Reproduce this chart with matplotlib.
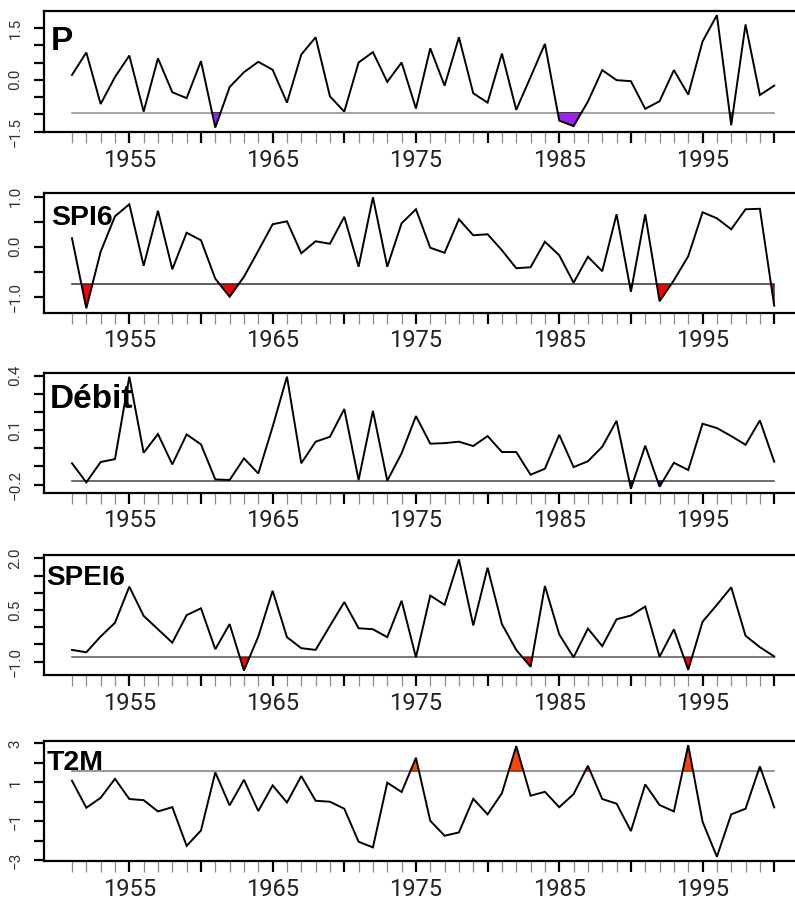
import numpy as np
import matplotlib
matplotlib.use("Agg")
import matplotlib.pyplot as plt

# ---------------- data ----------------
years = list(range(1951, 2001))

p_values = [0.14, 0.79, -0.70, 0.08, 0.70, -0.92, 0.62, -0.36, -0.53, 0.54,
            -1.38, -0.21, 0.22, 0.52, 0.29, -0.66, 0.73, 1.23, -0.48, -0.92,
            0.50, 0.80, -0.06, 0.50, -0.83, 0.91, -0.17, 1.23, -0.39, -0.66,
            0.76, -0.87, 0.08, 1.04, -1.18, -1.34, -0.63, 0.28, -0.01, -0.04,
            -0.84, -0.62, 0.28, -0.43, 1.11, 1.87, -1.31, 1.60, -0.44, -0.17]
p_threshold = -0.95

spi6_values = [0.17, -1.23, -0.10, 0.61, 0.85, -0.38, 0.72, -0.45, 0.28, 0.13,
               -0.64, -1.00, -0.60, -0.08, 0.45, 0.51, -0.13, 0.11, 0.06, 0.60,
               -0.40, 0.99, -0.40, 0.47, 0.75, -0.02, -0.12, 0.55, 0.23, 0.25,
               -0.07, -0.43, -0.41, 0.10, -0.17, -0.72, -0.20, -0.49, 0.65, -0.90,
               0.65, -1.09, -0.67, -0.19, 0.69, 0.57, 0.35, 0.75, 0.76, -1.18]
spi6_threshold = -0.75

debit_values = [-0.083, -0.188, -0.076, -0.060, 0.394, -0.025, 0.078, -0.089, 0.076, 0.021,
                -0.172, -0.175, -0.056, -0.139, 0.118, 0.394, -0.083, 0.036, 0.063, 0.216,
                -0.175, 0.206, -0.179, -0.028, 0.177, 0.025, 0.028, 0.036, 0.012, 0.067,
                -0.021, -0.021, -0.146, -0.113, 0.074, -0.104, -0.072, 0.008, 0.151, -0.223,
                0.014, -0.212, -0.080, -0.120, 0.135, 0.111, 0.067, 0.019, 0.153, -0.074]
debit_threshold = -0.179

spei6_values = [-0.66, -0.73, -0.27, 0.13, 1.18, 0.33, -0.06, -0.45, 0.35, 0.55,
                -0.64, 0.09, -1.26, -0.27, 1.06, -0.29, -0.61, -0.66, 0.04, 0.73,
                -0.03, -0.06, -0.29, 0.77, -0.875, 0.92, 0.65, 1.97, 0.05, 1.73,
                0.09, -0.66, -1.15, 1.20, -0.21, -0.875, -0.04, -0.55, 0.23, 0.34,
                0.60, -0.86, -0.06, -1.24, 0.16, 0.65, 1.16, -0.25, -0.58, -0.85]
spei6_threshold = -0.875

t2m_values = [1.08, -0.31, 0.20, 1.18, 0.14, 0.08, -0.50, -0.28, -2.27, -1.48,
              1.51, -0.19, 1.13, -0.48, 0.84, -0.04, 1.32, 0.05, 0.00, -0.36,
              -2.06, -2.35, 0.98, 0.50, 2.26, -0.98, -1.75, -1.58, 0.15, -0.65,
              0.44, 2.86, 0.31, 0.51, -0.28, 0.39, 1.85, 0.14, -0.10, -1.51,
              0.89, -0.17, -0.50, 2.91, -1.03, -2.83, -0.65, -0.36, 1.82, -0.29]
t2m_threshold = 1.58

titles = ["P", "SPI6", "Débit", "SPEI6", "T2M"]
x_major = [1955, 1960, 1965, 1970, 1975, 1980, 1985, 1990, 1995, 2000]
x_major_labels = ["1955", "", "1965", "", "1975", "", "1985", "", "1995", ""]

y_ticks = [
    [-1.5, -1.0, -0.5, 0.0, 0.5, 1.0, 1.5],
    [-1.0, -0.5, 0.0, 0.5, 1.0],
    [-0.2, -0.1, 0.0, 0.1, 0.2, 0.3, 0.4],
    [-1.0, -0.5, 0.0, 0.5, 1.0, 1.5, 2.0],
    [-3, -2, -1, 0, 1, 2, 3],
]
y_labels = [
    ["\u22121.5", "", "", "0.0", "", "", "1.5"],
    ["\u22121.0", "", "0.0", "", "1.0"],
    ["\u22120.2", "", "", "0.1", "", "", "0.4"],
    ["\u22121.0", "", "", "0.5", "", "", "2.0"],
    ["\u22123", "", "\u22121", "", "1", "", "3"],
]

# ---------------- layout / style ----------------
W, H = 795, 900
fig = plt.figure(figsize=(W / 100, H / 100), dpi=100)

series = [p_values, spi6_values, debit_values, spei6_values, t2m_values]
thresholds = [p_threshold, spi6_threshold, debit_threshold, spei6_threshold, t2m_threshold]
fill_colors = ["#A020F0", "#FF0000", "#0000FF", "#FF0000", "#FF4500"]
thr_colors = ["#8a8a8a", "#333333", "#444444", "#555555", "#7a7a7a"]
above = [False, False, False, False, True]
ylims = [(-1.51, 1.99), (-1.32, 1.07), (-0.245, 0.416), (-1.39, 2.10), (-3.05, 3.14)]
tops = [11, 193.3, 372.7, 555, 740.7]
bottoms = [132, 312.7, 492.7, 675, 861]
title_sizes = [24, 20.5, 24, 20, 20.5]
title_x = [51, 51, 50, 46, 47]
title_base = [50, 225, 408, 585, 770]

ax_left = 43.9
ax_width = 758.4

yrs = np.array(years, dtype=float)
for i in range(5):
    top, bot = tops[i], bottoms[i]
    ax = fig.add_axes([ax_left / W, 1 - bot / H, ax_width / W, (bot - top) / H])
    vals = np.array(series[i], dtype=float)
    thr = thresholds[i]

    ax.plot([years[0], years[-1]], [thr, thr], color=thr_colors[i], lw=1.1, zorder=2)
    if above[i]:
        mask = vals > thr
    else:
        mask = vals < thr
    ax.fill_between(yrs, vals, thr, where=mask, interpolate=True,
                    facecolor=fill_colors[i], edgecolor="#222222", lw=0.6, zorder=3)
    ax.plot(yrs, vals, color="black", lw=1.4, zorder=4, solid_joinstyle="miter")

    ax.set_xlim(1949.04, 2001.96)
    ax.set_ylim(*ylims[i])

    for s in ["top", "left", "bottom"]:
        ax.spines[s].set_linewidth(1.6)
    ax.spines["right"].set_visible(False)

    ax.set_xticks(x_major)
    ax.set_xticklabels(x_major_labels, fontfamily="Roboto", fontsize=17, color="#222222")
    ax.set_xticks([y for y in years if y % 5 != 0], minor=True)
    ax.tick_params(axis="x", which="major", length=8, width=1.6, color="black", pad=4)
    ax.tick_params(axis="x", which="minor", length=8, width=0.9, color="#8c8c8c")

    ax.set_yticks(y_ticks[i])
    ax.set_yticklabels(y_labels[i], fontfamily="Roboto", fontsize=11, color="#333333",
                       rotation=90, va="center")
    ax.tick_params(axis="y", which="major", length=7.5, width=1.6, color="black", pad=8)

    fig.text(title_x[i] / W, 1 - title_base[i] / H, titles[i], fontsize=title_sizes[i],
             fontweight="bold", fontfamily="Liberation Sans", ha="left", va="baseline")

fig.savefig("out.png", dpi=100)
